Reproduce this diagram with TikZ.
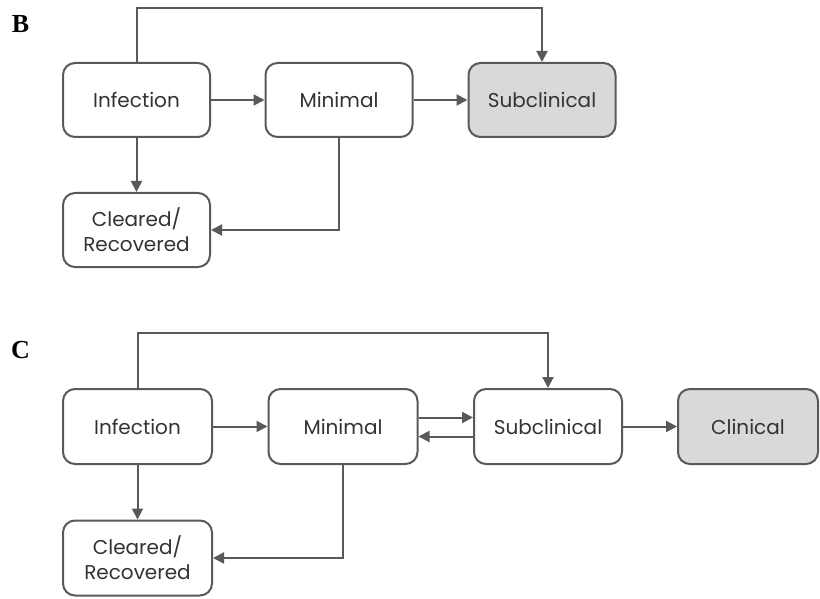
\documentclass[tikz,border=0pt]{standalone}
\usepackage{fontspec}
\setmainfont{Liberation Serif}
\newfontfamily\boxfont{Poppins}
\usetikzlibrary{arrows.meta}

\definecolor{linegray}{HTML}{595959}
\definecolor{fillgray}{HTML}{D9D9D9}
\definecolor{textgray}{HTML}{333333}

\tikzset{
  state/.style={draw=linegray, line width=2pt, rounded corners=12pt, fill=white,
    minimum width=147pt, minimum height=74pt, align=center, text=textgray,
    font=\boxfont\fontsize{20}{25}\selectfont},
  endstate/.style={state, fill=fillgray},
  flow/.style={draw=linegray, line width=2pt, -{Triangle[length=11pt,width=11pt]}},
  panel/.style={font=\bfseries\fontsize{26}{30}\selectfont}
}

\begin{document}
\begin{tikzpicture}[x=1pt,y=-1pt]
\useasboundingbox (0,0) rectangle (820,599);

% panel B
\node[panel] (labB) at (20.5,24) {B};
\node[state] (infB) at (136.5,100) {Infection};
\node[state] (minB) at (339,100) {Minimal};
\node[endstate] (subB) at (542,100) {Subclinical};
\node[state] (clrB) at (136.5,230) {Cleared/\\Recovered};
\coordinate (topB) at (0,8);

\draw[flow] (infB) -- (minB);
\draw[flow] (minB) -- (subB);
\draw[flow] (infB) -- (clrB);
\draw[flow] (minB.south) |- (clrB.east);
\draw[flow] (infB.north) |- (topB -| subB.north) -- (subB.north);

% panel C
\node[panel] (labC) at (20.5,350) {C};
\node[state, minimum width=149pt, minimum height=75pt] (infC) at (137.5,426.5) {Infection};
\node[state, minimum width=149pt, minimum height=75pt] (minC) at (343,426.5) {Minimal};
\node[state, minimum width=148pt, minimum height=75pt] (subC) at (548,426.5) {Subclinical};
\node[endstate, minimum width=140pt, minimum height=75pt] (cliC) at (748,426.5) {Clinical};
\node[state, minimum width=149pt, minimum height=75pt] (clrC) at (137.5,558) {Cleared/\\Recovered};
\coordinate (topC) at (0,333);

\draw[flow] (infC) -- (minC);
\draw[flow] ([yshift=9pt]minC.east) -- ([yshift=9pt]subC.west);
\draw[flow] ([yshift=-10pt]subC.west) -- ([yshift=-10pt]minC.east);
\draw[flow] (subC) -- (cliC);
\draw[flow] (infC) -- (clrC);
\draw[flow] (minC.south) |- (clrC.east);
\draw[flow] (infC.north) |- (topC -| subC.north) -- (subC.north);
\end{tikzpicture}
\end{document}
